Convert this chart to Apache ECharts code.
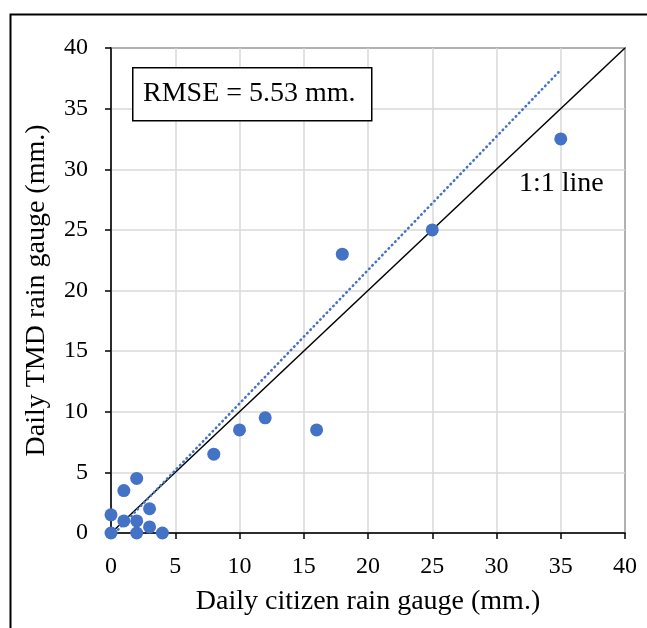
<!DOCTYPE html>
<html>
<head>
<meta charset="utf-8">
<script src="https://cdn.jsdelivr.net/npm/echarts@6/dist/echarts.min.js"></script>
<style>html,body{margin:0;padding:0;background:#fff;}#c{width:647px;height:628px;}</style>
</head>
<body>
<div id="c"></div>
<script>
var citizenX = [0, 0, 1, 1, 2, 2, 2, 3, 3, 4, 8, 10, 12, 16, 18, 25, 35];
var tmdY = [0, 1.5, 1, 3.5, 4.5, 1, 0, 2, 0.5, 0, 6.5, 8.5, 9.5, 8.5, 23, 25, 32.5];
var oneToOneLine = [[0, 0], [40, 40]];
var trendLine = [[0.3, 0], [35, 38.2]];
var axisTicks = [0, 5, 10, 15, 20, 25, 30, 35, 40];
var rmseText = 'RMSE = 5.53 mm.';
var lineLabel = '1:1 line';

var points = citizenX.map(function (x, i) { return [x, tmdY[i]]; });
var FONT = '"Liberation Serif", "Times New Roman", serif';

var chart = echarts.init(document.getElementById('c'), null, {renderer: 'canvas'});
chart.setOption({
  animation: false,
  backgroundColor: '#fff',
  grid: {left: 111, right: 22, top: 48, bottom: 95, show: true, borderColor: '#000', borderWidth: 1.5},
  xAxis: {
    type: 'value', min: axisTicks[0], max: axisTicks[axisTicks.length - 1], interval: 5,
    name: 'Daily citizen rain gauge (mm.)', nameLocation: 'middle', nameGap: 55,
    nameTextStyle: {fontFamily: FONT, fontSize: 28, color: '#000'},
    axisLine: {lineStyle: {color: '#000', width: 1.5}},
    axisTick: {show: true, length: 6, lineStyle: {color: '#000', width: 1.5}},
    axisLabel: {fontFamily: FONT, fontSize: 24, color: '#000', margin: 22},
    splitLine: {lineStyle: {color: '#d9d9d9', width: 1.5}}
  },
  yAxis: {
    type: 'value', min: axisTicks[0], max: axisTicks[axisTicks.length - 1], interval: 5,
    name: 'Daily TMD rain gauge (mm.)', nameLocation: 'middle', nameGap: 60,
    nameTextStyle: {fontFamily: FONT, fontSize: 28, color: '#000'},
    axisLine: {lineStyle: {color: '#000', width: 1.5}},
    axisTick: {show: true, length: 6, lineStyle: {color: '#000', width: 1.5}},
    axisLabel: {fontFamily: FONT, fontSize: 24, color: '#000', margin: 23},
    splitLine: {lineStyle: {color: '#d9d9d9', width: 1.5}}
  },
  series: [
    {
      type: 'line', data: oneToOneLine, symbol: 'none', silent: true,
      lineStyle: {color: '#000', width: 1.5}, z: 3
    },
    {
      type: 'line', data: trendLine, symbol: 'none', silent: true,
      lineStyle: {color: '#4472C4', width: 2.6, type: [0.5, 4.2], cap: 'round'}, z: 3
    },
    {
      type: 'scatter', data: points, symbol: 'circle', symbolSize: 13,
      itemStyle: {color: '#4472C4', opacity: 1}, z: 4
    }
  ],
  graphic: [
    {type: 'rect', left: 8, top: 12, shape: {width: 700, height: 700},
     style: {fill: 'none', stroke: '#000', lineWidth: 2}, silent: true},
    {type: 'rect', left: 132, top: 67, shape: {width: 239, height: 53},
     style: {fill: '#fff', stroke: '#000', lineWidth: 1.5}, z: 10},
    {type: 'text', left: 143, top: 80, z: 11,
     style: {text: rmseText, fontFamily: FONT, fontSize: 28, fill: '#000'}},
    {type: 'text', left: 519, top: 170, z: 11,
     style: {text: lineLabel, fontFamily: FONT, fontSize: 28, fill: '#000'}}
  ]
});
</script>
</body>
</html>
